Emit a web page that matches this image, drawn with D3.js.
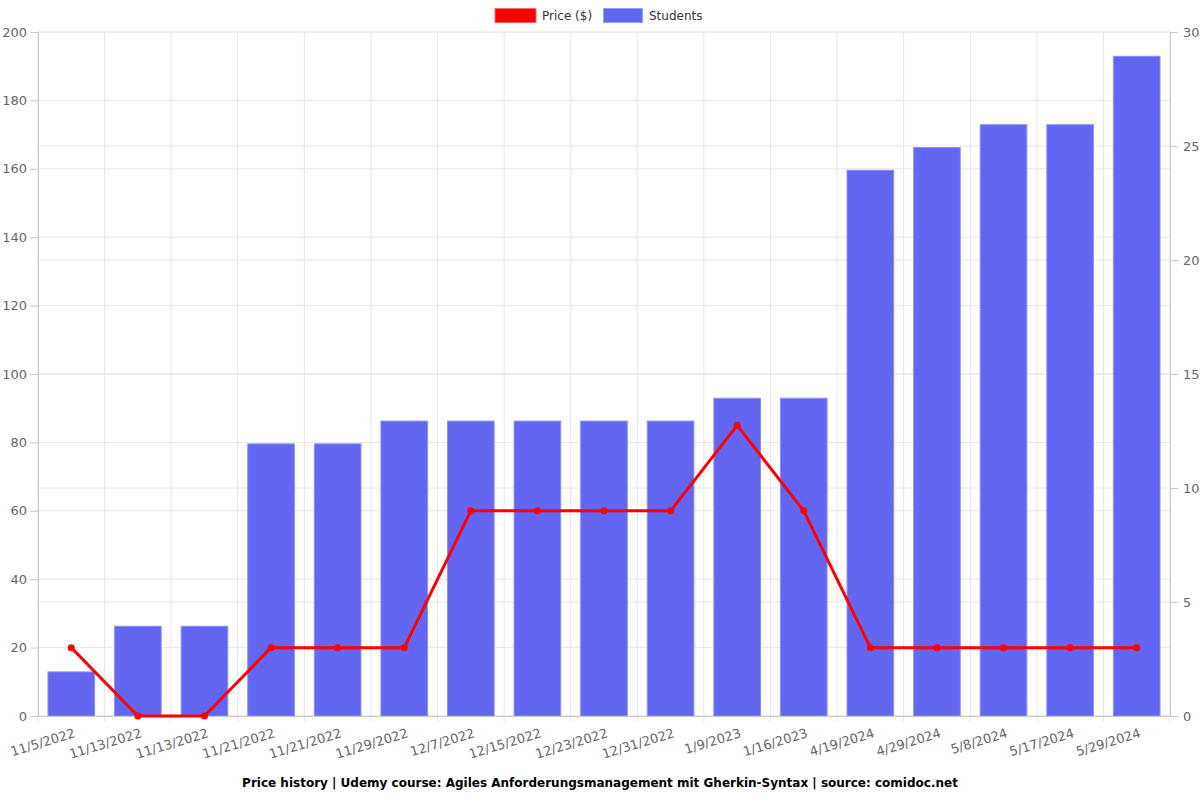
<!DOCTYPE html>
<html><head><meta charset="utf-8">
<script src="https://cdn.jsdelivr.net/npm/d3@7"></script>
<style>body{margin:0;background:#fff}svg{display:block;font-family:"DejaVu Sans",sans-serif}</style>
</head><body><svg id="c" width="1200" height="800"></svg>
<script>
const categories = ["11/5/2022","11/13/2022","11/13/2022","11/21/2022","11/21/2022","11/29/2022","12/7/2022","12/15/2022","12/23/2022","12/31/2022","1/9/2023","1/16/2023","4/19/2024","4/29/2024","5/8/2024","5/17/2024","5/29/2024"];
const price = [19.99,0,0,19.99,19.99,19.99,59.99,59.99,59.99,59.99,84.99,59.99,19.99,19.99,19.99,19.99,19.99];
const students = [2,4,4,12,12,13,13,13,13,13,14,14,24,25,26,26,29];
const leftTicks = [0,20,40,60,80,100,120,140,160,180,200];
const rightTicks = [0,5,10,15,20,25,30];
const title = "Price history | Udemy course: Agiles Anforderungsmanagement mit Gherkin-Syntax | source: comidoc.net";

const svg = d3.select("#c");
const L = 38, R = 1170, T = 32, B = 716;
const x = d3.scaleBand().domain(d3.range(categories.length)).range([L, R]).paddingInner(0).paddingOuter(0);
const yL = d3.scaleLinear().domain([0,200]).range([B, T]);
const yR = d3.scaleLinear().domain([0,30]).range([B, T]);
const grid = "#e6e6e6", axisC = "#c8c8c8", txt = "#666";

// grid
const g = svg.append("g");
g.selectAll(".hl").data(leftTicks).join("line").attr("x1", L).attr("x2", R)
  .attr("y1", d => yL(d)).attr("y2", d => yL(d)).attr("stroke", grid);
g.selectAll(".hr").data(rightTicks).join("line").attr("x1", L).attr("x2", R)
  .attr("y1", d => yR(d)).attr("y2", d => yR(d)).attr("stroke", grid);
const bounds = d3.range(categories.length + 1).map(i => i < categories.length ? x(i) : R);
g.selectAll(".v").data(bounds).join("line").attr("x1", d => d).attr("x2", d => d)
  .attr("y1", T).attr("y2", B + 6).attr("stroke", grid);

// bars
const bw = x.bandwidth() * 0.7;
svg.append("g").selectAll("rect").data(students).join("rect")
  .attr("x", (d, i) => x(i) + (x.bandwidth() - bw) / 2)
  .attr("y", d => yR(d) + 1.5).attr("width", bw).attr("height", d => B - yR(d) - 1.5)
  .attr("fill", "#6366f1").attr("stroke", "#8b8ef5").attr("stroke-width", 1);

// axes
const axL = svg.append("g").attr("transform", `translate(${L},0)`)
  .call(d3.axisLeft(yL).tickValues(leftTicks).tickSize(8).tickPadding(3));
const axR = svg.append("g").attr("transform", `translate(${R},0)`)
  .call(d3.axisRight(yR).tickValues(rightTicks).tickSize(8).tickPadding(5));
const axB = svg.append("g").attr("transform", `translate(0,${B})`)
  .call(d3.axisBottom(x).tickFormat(i => categories[i]).tickSize(0).tickPadding(0));
[axL, axR, axB].forEach(a => {
  a.select(".domain").attr("stroke", axisC);
  a.selectAll(".tick line").attr("stroke", axisC);
  a.selectAll("text").attr("fill", txt).attr("font-size", 13).attr("font-family", "DejaVu Sans, sans-serif");
});
axB.selectAll(".tick text")
  .attr("text-anchor", "end")
  .attr("transform", "translate(2,12) rotate(-17)")
  .attr("dy", "0.71em").attr("y", 0);

// line
const line = d3.line().x((d, i) => x(i) + x.bandwidth() / 2).y(d => yL(d));
svg.append("path").datum(price).attr("d", line).attr("fill", "none")
  .attr("stroke", "#ff0000").attr("stroke-width", 3).attr("stroke-linejoin", "round");
svg.append("g").selectAll("circle").data(price).join("circle")
  .attr("cx", (d, i) => x(i) + x.bandwidth() / 2).attr("cy", d => yL(d)).attr("r", 3.5)
  .attr("fill", "#ff0000");

// legend
const leg = svg.append("g").attr("font-size", 12);
leg.append("rect").attr("x", 495).attr("y", 8.5).attr("width", 41).attr("height", 14).attr("fill", "#ff0000").attr("stroke", "#ff6666");
leg.append("text").attr("x", 542).attr("y", 20).text("Price ($)").attr("fill", "#333");
leg.append("rect").attr("x", 603.5).attr("y", 8.5).attr("width", 39).attr("height", 14).attr("fill", "#6366f1").attr("stroke", "#9a9cf7");
leg.append("text").attr("x", 649).attr("y", 20).text("Students").attr("fill", "#333");

// title
svg.append("text").attr("x", 600).attr("y", 787).attr("text-anchor", "middle")
  .attr("font-size", 12).attr("font-weight", "bold").attr("fill", "#000").text(title);
</script></body></html>
